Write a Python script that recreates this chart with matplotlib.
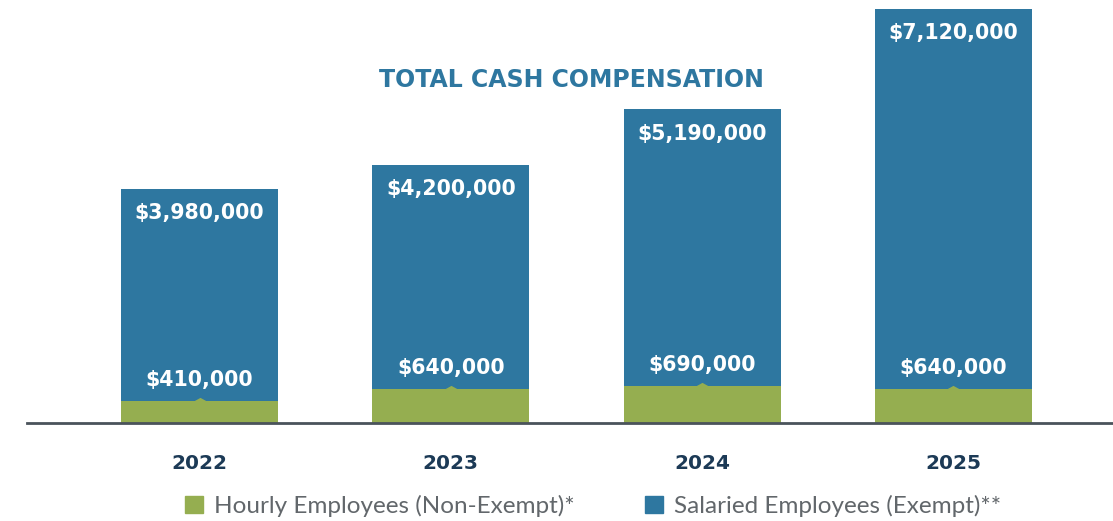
import matplotlib
matplotlib.use("Agg")
import matplotlib.pyplot as plt
from matplotlib.patches import Patch

years = ["2022", "2023", "2024", "2025"]
hourly = [410000, 640000, 690000, 640000]
salaried = [3980000, 4200000, 5190000, 7120000]
hourly_labels = ["$410,000", "$640,000", "$690,000", "$640,000"]
salaried_labels = ["$3,980,000", "$4,200,000", "$5,190,000", "$7,120,000"]

BLUE = "#2e77a0"
GREEN = "#95ae50"
NAVY = "#1c3a56"
GRAY = "#62676b"

W, H = 1113, 521
fig = plt.figure(figsize=(W / 100, H / 100), dpi=100)
base_px = 423
ax = fig.add_axes([27 / W, (H - base_px) / H, (W - 27) / W, base_px / H])

x = list(range(len(years)))
width = 0.625
ax.bar(x, hourly, width=width, color=GREEN, zorder=2)
ax.bar(x, salaried, width=width, bottom=hourly, color=BLUE, zorder=2)

# small green pointer triangle on top of hourly bars
tri = [(-1, 0), (1, 0), (0, 0.55), (-1, 0)]
ax.plot(x, hourly, linestyle="none", marker=tri, markersize=9.5,
        color=GREEN, markeredgewidth=0, zorder=3, clip_on=False)

lab_font = dict(family="DejaVu Sans", weight="bold", size=14.8, color="white")
for xi, h, s, hl, sl in zip(x, hourly, salaried, hourly_labels, salaried_labels):
    ax.annotate(sl, (xi, h + s), xytext=(0, -17.5), textcoords="offset points",
                ha="center", va="center", zorder=4, **lab_font)
    ax.annotate(hl, (xi, h), xytext=(0, 15), textcoords="offset points",
                ha="center", va="center", zorder=4, **lab_font)

px_per_unit = 251.3
ax.set_xlim(-(199.5 - 27) / px_per_unit, 3 + (W - 953.5) / px_per_unit)
ax.set_ylim(0, 7760000 * base_px / 414)

for s in ["top", "right", "left"]:
    ax.spines[s].set_visible(False)
ax.spines["bottom"].set_color("#4a535b")
ax.spines["bottom"].set_linewidth(2)
ax.set_yticks([])
ax.set_xticks(x)
ax.set_xticklabels(years, family="DejaVu Sans", weight="bold", size=14.5, color=NAVY)
ax.tick_params(axis="x", length=0, pad=22)

fig.text(571 / W, 1 - 80 / H, "TOTAL CASH COMPENSATION", ha="center", va="center",
         family="DejaVu Sans", weight="bold", size=17, color=BLUE)

handles = [Patch(color=GREEN), Patch(color=BLUE)]
fig.legend(handles, ["Hourly Employees (Non-Exempt)*", "Salaried Employees (Exempt)**"],
           loc="center", bbox_to_anchor=(593 / W, 1 - 506 / H), ncol=2, frameon=False,
           prop=dict(family="Lato", weight="normal", size=17.5), labelcolor=GRAY,
           handlelength=0.75, handleheight=0.75, handletextpad=0.45, columnspacing=2.9,
           borderpad=0, borderaxespad=0)

fig.savefig("out.png", dpi=100)
